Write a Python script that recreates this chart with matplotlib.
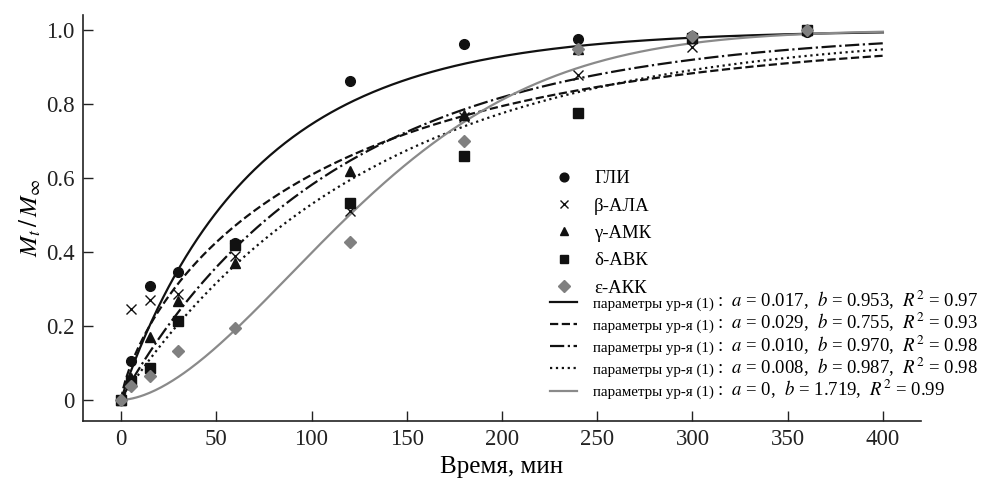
import matplotlib
matplotlib.use("Agg")
import matplotlib.pyplot as plt
import numpy as np

plt.rcParams['font.family'] = ['Liberation Serif', 'DejaVu Serif']
plt.rcParams['mathtext.fontset'] = 'stix'

# time points, min
t = [0, 5, 15, 30, 60, 120, 180, 240, 300, 360]

names = ["ГЛИ", "β-АЛА", "γ-АМК", "δ-АВК", "ε-АКК"]
gli = [0, 0.104, 0.308, 0.345, 0.425, 0.863, 0.962, 0.976, 0.985, 0.995]
ala = [0, 0.245, 0.27, 0.287, 0.39, 0.51, 0.765, 0.878, 0.955, 1.0]
amk = [0, 0.06, 0.17, 0.268, 0.37, 0.62, 0.77, 0.95, 0.98, 1.0]
avk = [0, 0.05, 0.086, 0.214, 0.42, 0.532, 0.66, 0.775, 0.98, 1.0]
akk = [0, 0.038, 0.066, 0.133, 0.195, 0.426, 0.70, 0.95, 0.985, 1.0]

# model parameters of eq. (1): Mt/Minf = 1 - exp(-a t^b)
a_shown = ["0.017", "0.029", "0.010", "0.008", "0"]
a_vals = [0.017, 0.029, 0.010, 0.008, 0.000185]
b_vals = [0.953, 0.755, 0.970, 0.987, 1.719]
r2 = ["0.97", "0.93", "0.98", "0.98", "0.99"]

series = [gli, ala, amk, avk, akk]
markers = ['o', 'x', '^', 's', 'D']
msizes = [7, 7, 7, 7, 6.5]
colors = ['#111111', '#111111', '#111111', '#111111', '#808080']
lstyles = ['-', '--', '-.', ':', '-']
lcolors = ['#111111', '#111111', '#111111', '#111111', '#8a8a8a']

fig = plt.figure(figsize=(10.06, 4.91), dpi=100)
ax = fig.add_axes([0.0825, 0.1426, 0.833, 0.826])

tt = np.linspace(0, 400, 400)
line_handles = []
for i in range(5):
    y = 1 - np.exp(-a_vals[i] * tt ** b_vals[i])
    h, = ax.plot(tt, y, linestyle=lstyles[i], color=lcolors[i], lw=1.6, zorder=2)
    line_handles.append(h)

mk_handles = []
for i in range(5):
    h, = ax.plot(t, series[i], linestyle='none', marker=markers[i], ms=msizes[i],
                 color=colors[i], mec=colors[i], mew=1.0, zorder=3)
    mk_handles.append(h)

ax.set_xlim(-20, 420)
ax.set_ylim(-0.057, 1.04)
ax.set_xticks(range(0, 401, 50))
ax.set_yticks([0, 0.2, 0.4, 0.6, 0.8, 1.0])
ax.set_yticklabels(["0", "0.2", "0.4", "0.6", "0.8", "1.0"])
ax.spines['top'].set_visible(False)
ax.spines['right'].set_visible(False)
for s in ['left', 'bottom']:
    ax.spines[s].set_linewidth(1.2)
    ax.spines[s].set_color('#222222')
ax.tick_params(direction='in', length=7, width=1.0, labelsize=16.5, pad=6, colors='#222222')
ax.set_xlabel("Время, мин", fontsize=18, labelpad=4)
ax.set_ylabel(r"$M_t\,/\,M_\infty$", fontsize=18, labelpad=2)

leg1 = ax.legend(mk_handles, names, loc='upper left', bbox_to_anchor=(555 / 1006, 1 - 170 / 491),
                 bbox_transform=fig.transFigure, frameon=False, fontsize=13.5,
                 labelspacing=0.55, handlelength=1.0, handletextpad=1.08, borderpad=0,
                 borderaxespad=0, markerscale=0.9)
ax.add_artist(leg1)

leg2 = ax.legend(line_handles, ["параметры ур-я (1)"] * 5, loc='upper left',
                 bbox_to_anchor=(550 / 1006, 1 - 297 / 491),
                 bbox_transform=fig.transFigure, frameon=False, fontsize=10.8,
                 labelspacing=0.56, handlelength=1.8, handletextpad=1.05, borderpad=0,
                 borderaxespad=0)

# parameter part of each legend row, larger type, on the same baseline
fig.canvas.draw()
for i, txt in enumerate(leg2.get_texts()):
    bb = txt.get_window_extent()
    x0, yb = txt.get_transform().transform(txt.get_position())
    fx, fy = fig.transFigure.inverted().transform((bb.x1 + 3, yb))
    fig.text(fx, fy, ":  $a$ = %s,  $b$ = %.3f,  $R^2$ = %s" % (a_shown[i], b_vals[i], r2[i]),
             fontsize=13.5, va='baseline', ha='left')

fig.savefig("out.png", dpi=100)
